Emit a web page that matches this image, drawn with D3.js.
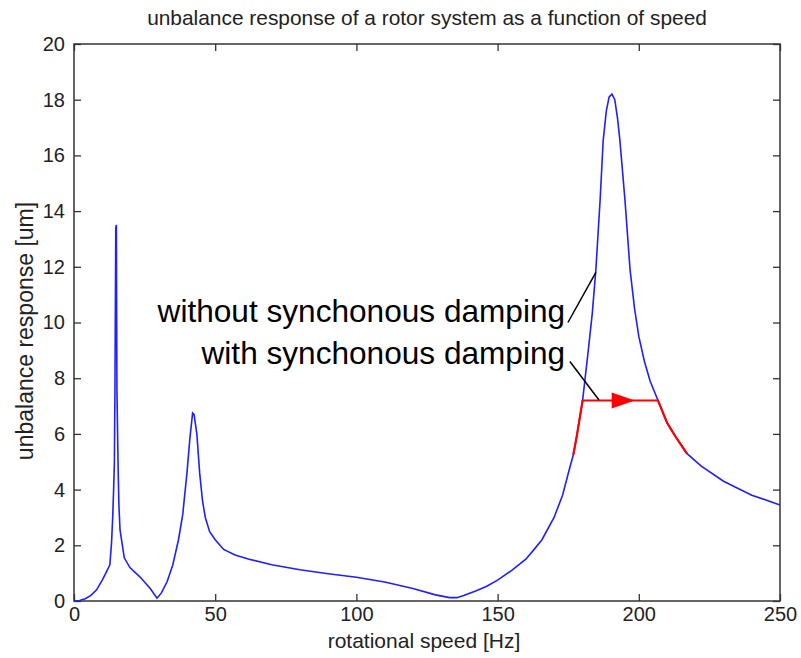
<!DOCTYPE html>
<html lang="en">
  <head>
    <meta charset="utf-8">
    <title>unbalance response</title>
    <script src="https://d3js.org/d3.v7.js"></script>
    <style>
      body { margin: 0; background: #fff; }
      text { font-family: "Liberation Sans", Arial, sans-serif; }
    </style>
  </head>

  <body>

  <script>

// data

  var speedHz = [0, 2, 4, 6, 8, 10, 11, 12, 12.7, 13.3, 13.7, 14.0, 14.3, 14.5, 14.8, 15.0, 15.2, 15.6, 15.9, 16.3,
    17.8, 19.8, 23.4, 27, 29.4, 31, 33, 35, 37, 38.5, 40, 41, 42, 42.5, 43.5, 44.5, 45.5, 46.5, 48, 50,
    53, 57, 62, 70, 80, 90, 100, 110, 120, 128, 133, 135.6, 138, 142, 146, 150, 155, 160, 162.5, 165.7,
    170, 173, 175.6, 176.8, 178, 180.1, 182, 183.5, 184.8, 186.3, 187.4, 188.5, 189.5, 190.5, 191.5, 192.5,
    193.3, 195.1, 196.9, 198.5, 200, 202, 204, 206.8, 210, 213, 217, 222, 230, 240, 250];

  var responseUm = [0, 0.02, 0.08, 0.2, 0.4, 0.75, 0.95, 1.15, 1.3, 2.1, 3.0, 3.9, 4.95, 7.6, 13.4, 13.5, 7.6, 4.9, 3.45, 2.55,
    1.55, 1.2, 0.86, 0.45, 0.1, 0.3, 0.7, 1.3, 2.2, 3.1, 4.6, 5.8, 6.75, 6.7, 6.0, 4.6, 3.6, 3.0, 2.5, 2.2,
    1.85, 1.65, 1.5, 1.3, 1.12, 0.98, 0.85, 0.68, 0.45, 0.22, 0.12, 0.12, 0.2, 0.35, 0.52, 0.75, 1.1, 1.5, 1.8, 2.2,
    3.0, 3.8, 4.8, 5.24, 5.9, 7.2, 8.9, 10.3, 11.9, 14.4, 16.55, 17.6, 18.1, 18.2, 18.0, 17.3,
    16.55, 14.4, 11.9, 10.5, 9.5, 8.6, 7.9, 7.2, 6.4, 5.9, 5.3, 4.85, 4.3, 3.8, 3.45];

  // response with synchronous damping (clipped peak)
  var dampedSpeedHz = [176.8, 178, 180.1, 206.8, 210, 213, 217];
  var dampedResponseUm = [5.24, 5.9, 7.2, 7.2, 6.4, 5.9, 5.3];

  var arrowFromHz = 190.4, arrowToHz = 198.6, arrowLevel = 7.2;

  var xTicks = [0, 50, 100, 150, 200, 250];
  var yTicks = [0, 2, 4, 6, 8, 10, 12, 14, 16, 18, 20];

  // leader lines: text end (baseline) and line ends, in data units
  var notes = [
    {label: "without synchonous damping", textHz: 173.9, textUm: 10.02, from: [174.9, 10.0], to: [184.8, 11.8]},
    {label: "with synchonous damping", textHz: 173.9, textUm: 8.51, from: [175.6, 8.6], to: [185.9, 7.22]}
  ];

// layout

  var w = 801, h = 658;
  var plotL = 74, plotR = 780, plotT = 44, plotB = 601;

  var svg = d3.select("body")
    .append("svg")
      .attr("width", w)
      .attr("height", h);

  var xScale = d3.scaleLinear()
      .domain([0, 250])
      .range([plotL, plotR]);

  var yScale = d3.scaleLinear()
      .domain([0, 20])
      .range([plotB, plotT]);

  var axisColor = "#333";

  // box
  svg.append("rect")
      .attr("x", plotL)
      .attr("y", plotT)
      .attr("width", plotR - plotL)
      .attr("height", plotB - plotT)
      .attr("fill", "none")
      .attr("stroke", axisColor)
      .attr("stroke-width", 1.5);

  function styleAxis(g, showLabels) {
    g.select(".domain").remove();
    g.selectAll(".tick line").attr("stroke", axisColor).attr("stroke-width", 1.3);
    g.selectAll(".tick text")
      .attr("fill", "#222")
      .style("font-size", "20px")
      .style("display", showLabels ? null : "none");
  }

  svg.append("g")
      .attr("transform", "translate(0," + plotB + ")")
      .call(d3.axisBottom(xScale).tickValues(xTicks).tickSize(-7).tickPadding(6))
      .call(g => styleAxis(g, true));

  svg.append("g")
      .attr("transform", "translate(0," + plotT + ")")
      .call(d3.axisTop(xScale).tickValues(xTicks).tickSize(-7))
      .call(g => styleAxis(g, false));

  svg.append("g")
      .attr("transform", "translate(" + plotL + ",0)")
      .call(d3.axisLeft(yScale).tickValues(yTicks).tickSize(-7).tickPadding(9))
      .call(g => styleAxis(g, true));

  svg.append("g")
      .attr("transform", "translate(" + plotR + ",0)")
      .call(d3.axisRight(yScale).tickValues(yTicks).tickSize(-7))
      .call(g => styleAxis(g, false));

  // curves
  var line = d3.line()
      .x(d => xScale(d[0]))
      .y(d => yScale(d[1]));

  svg.append("path")
      .datum(d3.zip(speedHz, responseUm))
      .attr("d", line)
      .attr("fill", "none")
      .attr("stroke", "#1f1fff")
      .attr("stroke-width", 1.6);

  svg.append("path")
      .datum(d3.zip(dampedSpeedHz, dampedResponseUm))
      .attr("d", line)
      .attr("fill", "none")
      .attr("stroke", "#ff0000")
      .attr("stroke-width", 2.2);

  var ay = yScale(arrowLevel);
  svg.append("path")
      .attr("d", "M" + xScale(arrowFromHz) + "," + (ay - 8) +
                 "L" + xScale(arrowToHz) + "," + ay +
                 "L" + xScale(arrowFromHz) + "," + (ay + 8) + "Z")
      .attr("fill", "#ff0000");

  // annotations
  notes.forEach(n => {
    svg.append("line")
        .attr("x1", xScale(n.from[0]))
        .attr("y1", yScale(n.from[1]))
        .attr("x2", xScale(n.to[0]))
        .attr("y2", yScale(n.to[1]))
        .attr("stroke", "#000")
        .attr("stroke-width", 1.5);
    svg.append("text")
        .attr("x", xScale(n.textHz))
        .attr("y", yScale(n.textUm))
        .attr("text-anchor", "end")
        .style("font-size", "31.6px")
        .attr("fill", "#000")
        .text(n.label);
  });

  // titles
  svg.append("text")
      .attr("x", (plotL + plotR) / 2)
      .attr("y", 25)
      .attr("text-anchor", "middle")
      .style("font-size", "20.9px")
      .attr("fill", "#222")
      .text("unbalance response of a rotor system as a function of speed");

  svg.append("text")
      .attr("x", 424)
      .attr("y", 648)
      .attr("text-anchor", "middle")
      .style("font-size", "21px")
      .attr("fill", "#222")
      .text("rotational speed [Hz]");

  svg.append("text")
      .attr("transform", "translate(33,331) rotate(-90)")
      .attr("text-anchor", "middle")
      .style("font-size", "23px")
      .attr("fill", "#222")
      .text("unbalance response [um]");

    </script>

  </body>

</html>
